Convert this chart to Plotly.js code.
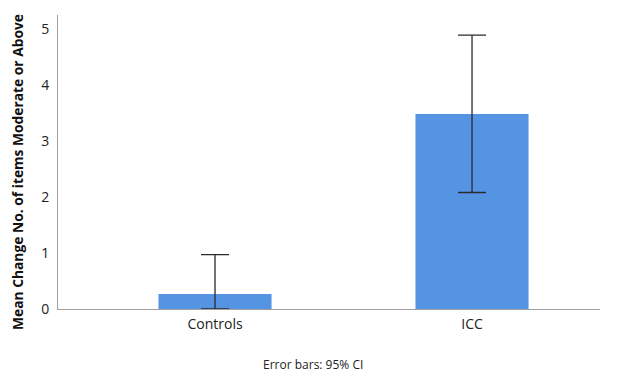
<!DOCTYPE html>
<html>
<head>
<meta charset="utf-8">
<script src="https://cdn.plot.ly/plotly-3.0.1.min.js"></script>
<style>html,body{margin:0;padding:0;background:#fff;}#chart{width:619px;height:372px;}</style>
</head>
<body>
<div id="chart"></div>
<script>
const categories = ["Controls", "ICC"];
const means = [0.27, 3.48];
const ciUpper = [0.70, 1.41];
const ciLower = [0.27, 1.40];
const yTickVals = [0, 1, 2, 3, 4, 5];
const yTitle = "Mean Change No. of items Moderate or Above";

const trace = {
  type: "bar",
  x: [0, 1],
  y: means,
  width: 0.44,
  marker: {color: "#5593E3", line: {width: 0}},
  error_y: {
    type: "data", symmetric: false,
    array: ciUpper, arrayminus: ciLower,
    color: "#2b2b2b", thickness: 1.3, width: 14
  },
  hoverinfo: "none"
};

const layout = {
  width: 619, height: 372,
  margin: {l: 58, r: 19, t: 15, b: 63},
  paper_bgcolor: "#fff", plot_bgcolor: "#fff",
  font: {family: "Open Sans, DejaVu Sans, sans-serif", color: "#222", size: 14},
  showlegend: false,
  xaxis: {
    range: [-0.611, 1.498],
    tickvals: [0, 1], ticktext: categories,
    showgrid: false, zeroline: false,
    showline: true, linecolor: "#a0a0a0", linewidth: 1,
    ticks: "", tickfont: {size: 14, color: "#222"}, ticklabelstandoff: 2, fixedrange: true
  },
  yaxis: {
    range: [0, 5.25],
    tickvals: yTickVals,
    showgrid: false, zeroline: false,
    showline: true, linecolor: "#a0a0a0", linewidth: 1,
    ticks: "", ticklen: 0, tickfont: {size: 14, color: "#222"}, ticklabelstandoff: 5
  },
  annotations: [{
    text: yTitle, xref: "paper", yref: "paper",
    x: -0.0738, y: 0.466, xanchor: "center", yanchor: "middle", textangle: -90,
    showarrow: false, font: {size: 13.8, color: "#111", weight: "bold"}
  }, {
    text: "Error bars: 95% CI", xref: "paper", yref: "paper",
    x: 0.47, y: -0.19, xanchor: "center", yanchor: "middle",
    showarrow: false, font: {size: 12, color: "#222"}
  }]
};

Plotly.newPlot("chart", [trace], layout, {displayModeBar: false, staticPlot: true});
</script>
</body>
</html>
